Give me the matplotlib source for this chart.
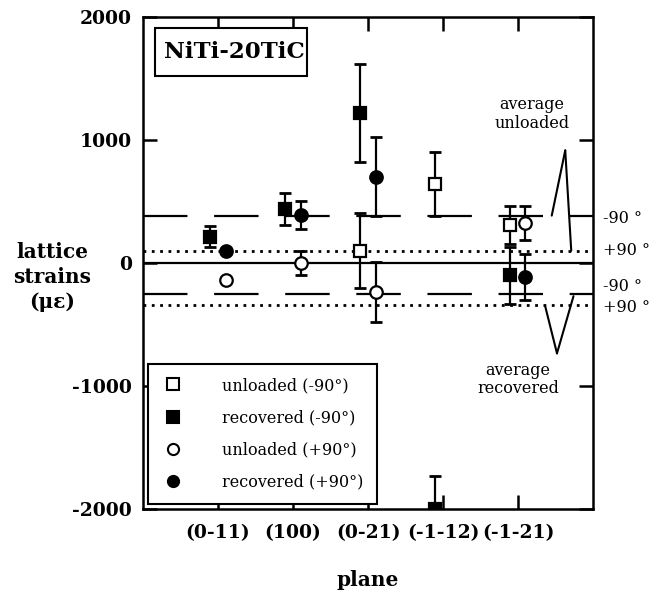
import numpy as np
import matplotlib
matplotlib.use('Agg')
import matplotlib.pyplot as plt
from matplotlib.lines import Line2D
from matplotlib.patches import Rectangle

plt.rcParams['font.family'] = ['DejaVu Serif']

# ---------------- data ----------------
planes = ['(0-11)', '(100)', '(0-21)', '(-1-12)', '(-1-21)']
unl_m90 = [np.nan, np.nan, 100, 645, 310]
unl_m90_err = [np.nan, np.nan, 305, 260, 155]
rec_m90 = [215, 440, 1220, -2000, -100]
rec_m90_err = [85, 130, 400, 265, 230]
unl_p90 = [-140, 0, -235, np.nan, 325]
unl_p90_err = [np.nan, 100, 245, np.nan, 135]
rec_p90 = [95, 390, 700, np.nan, -115]
rec_p90_err = [np.nan, 110, 320, np.nan, 185]

avg_unl_m90 = 385
avg_unl_p90 = 100
avg_rec_m90 = -250
avg_rec_p90 = -345

yticks = [-2000, -1000, 0, 1000, 2000]

# ---------------- figure ----------------
fig = plt.figure(figsize=(6.54, 5.99), dpi=100)
ax = fig.add_axes([0.2187, 0.1503, 0.688, 0.8214])

x = np.arange(1, len(planes) + 1)
off_sq, off_ci = -0.11, 0.10

# average lines
ax.axhline(0, color='black', lw=1.6, zorder=1)
ax.axhline(avg_unl_m90, color='black', lw=1.6, dashes=(20, 12), zorder=1)
ax.axhline(avg_rec_m90, color='black', lw=1.6, dashes=(20, 12), zorder=1)
ax.axhline(avg_unl_p90, color='black', lw=2.0, linestyle=(0, (1, 2)), zorder=1)
ax.axhline(avg_rec_p90, color='black', lw=2.0, linestyle=(0, (1, 2)), zorder=1)

def series(vals, errs, dx, marker, filled):
    v = np.array(vals, dtype=float)
    e = np.array(errs, dtype=float)
    m = ~np.isnan(e) & ~np.isnan(v)
    if m.any():
        ax.errorbar(x[m] + dx, v[m], yerr=e[m], fmt='none', ecolor='black',
                    elinewidth=1.6, capsize=4, capthick=2.0, zorder=3)
    ax.plot(x + dx, v, linestyle='none', marker=marker, ms=9, mew=1.6,
            mec='black', mfc='black' if filled else 'white', zorder=4)

series(unl_m90, unl_m90_err, off_sq, 's', False)
series(rec_m90, rec_m90_err, off_sq, 's', True)
series(unl_p90, unl_p90_err, off_ci, 'o', False)
series(rec_p90, rec_p90_err, off_ci, 'o', True)

ax.set_xlim(0, 6)
ax.set_ylim(-2000, 2000)
ax.set_xticks(x)
ax.set_xticklabels(planes)
ax.set_yticks(yticks)
ax.set_yticklabels([str(t) for t in yticks])
ax.tick_params(direction='in', length=10, width=1.8, top=True, right=True,
               labelsize=13.5)
ax.tick_params(axis='x', pad=11)
ax.tick_params(axis='y', pad=8)
for lab in ax.get_xticklabels() + ax.get_yticklabels():
    lab.set_fontweight('bold')
for s in ax.spines.values():
    s.set_linewidth(1.8)

ax.set_xlabel('plane', fontsize=14.5, fontweight='bold')
ax.xaxis.set_label_coords(0.5, -0.124)
ax.set_ylabel('lattice\nstrains\n(\u03bc\u03b5)', fontsize=14.5,
              fontweight='bold', rotation=0, linespacing=1.3,
              ha='center', va='center')
ax.yaxis.set_label_coords(-0.202, 0.4715)

# sample label box
ax.add_patch(Rectangle((0.0267, 0.880), 0.338, 0.0976, transform=ax.transAxes,
                       fc='white', ec='black', lw=1.5, zorder=5))
ax.text(0.204, 0.929, 'NiTi-20TiC', transform=ax.transAxes, fontsize=16.5,
        fontweight='bold', ha='center', va='center', zorder=6)

# average annotations
ax.text(5.19, 1210, 'average\nunloaded', fontsize=11.5, ha='center',
        va='center', linespacing=1.1)
ax.text(5.0, -950, 'average\nrecovered', fontsize=11.5, ha='center',
        va='center', linespacing=1.1)
arrow = dict(arrowstyle='-', lw=1.5, color='black', shrinkA=0, shrinkB=0)
ax.annotate('', xy=(5.45, avg_unl_m90), xytext=(5.63, 915), arrowprops=arrow)
ax.annotate('', xy=(5.71, avg_unl_p90), xytext=(5.63, 915), arrowprops=arrow)
ax.annotate('', xy=(5.36, avg_rec_p90), xytext=(5.52, -735), arrowprops=arrow)
ax.annotate('', xy=(5.74, avg_rec_m90 - 20), xytext=(5.52, -735), arrowprops=arrow)

# right side labels
for val, txt in [(avg_unl_m90 - 20, '-90 \u00b0'), (avg_unl_p90 + 5, '+90 \u00b0'),
                 (-190, '-90 \u00b0'), (-360, '+90 \u00b0')]:
    ax.annotate(txt, xy=(1.0, val), xycoords=('axes fraction', 'data'),
                xytext=(7, 0), textcoords='offset points', fontsize=11.5,
                ha='left', va='center', annotation_clip=False)

# legend
handles = [
    Line2D([], [], ls='none', marker='s', ms=8, mew=1.5, mec='black', mfc='white'),
    Line2D([], [], ls='none', marker='s', ms=8, mew=1.5, mec='black', mfc='black'),
    Line2D([], [], ls='none', marker='o', ms=8, mew=1.5, mec='black', mfc='white'),
    Line2D([], [], ls='none', marker='o', ms=8, mew=1.5, mec='black', mfc='black'),
]
labels = ['unloaded (-90\u00b0)', 'recovered (-90\u00b0)',
          'unloaded (+90\u00b0)', 'recovered (+90\u00b0)']
leg = ax.legend(handles, labels, loc='lower left', fontsize=11.5,
                frameon=True, fancybox=False, edgecolor='black',
                borderpad=0.85, handlelength=1.5, handletextpad=2.3,
                labelspacing=0.95, borderaxespad=0.3)
leg.get_frame().set_linewidth(1.5)
leg.get_frame().set_alpha(1)

fig.savefig('out.png', dpi=100)
